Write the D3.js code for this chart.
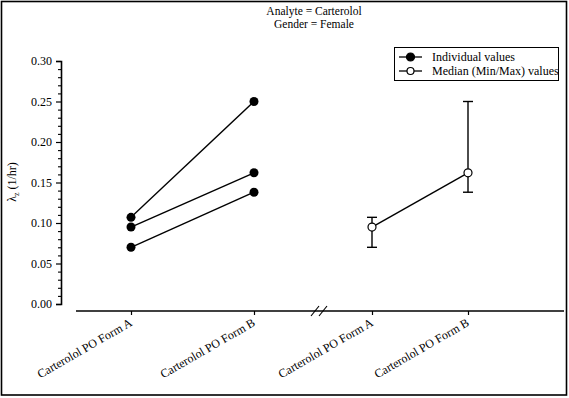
<!DOCTYPE html>
<html>
<head>
<meta charset="utf-8">
<script src="https://cdn.jsdelivr.net/npm/d3@7"></script>
<style>
  body { margin: 0; background: #fff; }
  text { font-family: "Liberation Serif", "Times New Roman", serif; fill: #000; }
</style>
</head>
<body>
<svg id="viz" width="569" height="398"></svg>
<script>
// categories and values
var forms = ["Carterolol PO Form A", "Carterolol PO Form B"];
var subjA = [0.107, 0.095, 0.070];
var subjB = [0.250, 0.162, 0.138];
var medianVals = [0.095, 0.162];
var minVals = [0.070, 0.138];
var maxVals = [0.107, 0.250];
var yTicks = [0.00, 0.05, 0.10, 0.15, 0.20, 0.25, 0.30];
var yMinorTicks = [0.01, 0.02, 0.03, 0.04, 0.06, 0.07, 0.08, 0.09, 0.11, 0.12, 0.13, 0.14,
  0.16, 0.17, 0.18, 0.19, 0.21, 0.22, 0.23, 0.24, 0.26, 0.27, 0.28, 0.29];
var titleLines = ["Analyte = Carterolol", "Gender = Female"];
var legendLabels = ["Individual values", "Median (Min/Max) values"];

var svg = d3.select("#viz");

// outer frame
svg.append("rect").attr("x", 1.5).attr("y", 1.5).attr("width", 565).attr("height", 393.5)
  .attr("fill", "none").attr("stroke", "#000").attr("stroke-width", 1.6);

// scales
var y = d3.scaleLinear().domain([0, 0.3]).range([304, 61]);
var xLeft = d3.scalePoint().domain(forms).range([131, 254]);
var xRight = d3.scalePoint().domain(forms).range([372, 468]);

// title
svg.selectAll(".title").data(titleLines).enter().append("text")
  .attr("x", 314).attr("y", function(d, i) { return 15 + i * 12.5; })
  .attr("text-anchor", "middle").style("font-size", "11.5px").text(function(d) { return d; });

// y axis: minor ticks in their own group, then majors
var yMinor = svg.append("g").attr("class", "minor").attr("transform", "translate(61,0)");
yMinor.call(d3.axisLeft(y).tickValues(yMinorTicks).tickSize(3).tickFormat(""));
yMinor.select(".domain").remove();
yMinor.selectAll("line").attr("stroke", "#000").attr("stroke-width", 1.1);
var yAxisG = svg.append("g").attr("transform", "translate(61,0)");
yAxisG.call(d3.axisLeft(y).tickValues(yTicks).tickSize(5).tickPadding(4).tickFormat(d3.format(".2f")));
yAxisG.selectAll(".domain").attr("stroke-width", 1.6);
yAxisG.selectAll("line").attr("stroke-width", 1.2);
yAxisG.selectAll("text").style("font-size", "12px");

// y label
var yl = svg.append("text").attr("transform", "translate(16,182) rotate(-90)")
  .attr("text-anchor", "middle").style("font-size", "12px");
yl.append("tspan").text("λ");
yl.append("tspan").attr("dy", 3).style("font-size", "8px").text("z");
yl.append("tspan").attr("dy", -3).text(" (1/hr)");

// x axis line with break marks
svg.append("line").attr("x1", 76).attr("x2", 564).attr("y1", 311).attr("y2", 311)
  .attr("stroke", "#000").attr("stroke-width", 1.6);
[315, 323].forEach(function(bx) {
  svg.append("line").attr("x1", bx - 4).attr("y1", 316).attr("x2", bx + 4).attr("y2", 306)
    .attr("stroke", "#000").attr("stroke-width", 1.2);
});

// x ticks and rotated labels
[xLeft, xRight].forEach(function(sc) {
  var g = svg.append("g").attr("transform", "translate(0,311)");
  g.call(d3.axisBottom(sc).tickSize(4).tickFormat(""));
  g.select(".domain").remove();
  g.selectAll("line").attr("stroke-width", 1.2);
  forms.forEach(function(f) {
    svg.append("text").attr("transform", "translate(" + (sc(f) + 2) + ",325) rotate(-30)")
      .attr("text-anchor", "end").style("font-size", "12px").text(f);
  });
});

// individual subject lines
var pairs = subjA.map(function(a, i) { return [a, subjB[i]]; });
var line = d3.line().x(function(d, i) { return xLeft(forms[i]); }).y(function(d) { return y(d); });
svg.selectAll(".subj").data(pairs).enter().append("path")
  .attr("d", line).attr("fill", "none").attr("stroke", "#000").attr("stroke-width", 1.4);
pairs.forEach(function(p) {
  p.forEach(function(v, i) {
    svg.append("circle").attr("cx", xLeft(forms[i])).attr("cy", y(v)).attr("r", 4.5).attr("fill", "#000");
  });
});

// median with min/max bars
var lineR = d3.line().x(function(d, i) { return xRight(forms[i]); }).y(function(d) { return y(d); });
forms.forEach(function(f, i) {
  var cx = xRight(f);
  svg.append("line").attr("x1", cx).attr("x2", cx).attr("y1", y(minVals[i])).attr("y2", y(maxVals[i]))
    .attr("stroke", "#000").attr("stroke-width", 1.4);
  [minVals[i], maxVals[i]].forEach(function(v) {
    svg.append("line").attr("x1", cx - 5).attr("x2", cx + 5).attr("y1", y(v)).attr("y2", y(v))
      .attr("stroke", "#000").attr("stroke-width", 1.4);
  });
});
svg.append("path").attr("d", lineR(medianVals)).attr("fill", "none").attr("stroke", "#000").attr("stroke-width", 1.4);
medianVals.forEach(function(v, i) {
  svg.append("circle").attr("cx", xRight(forms[i])).attr("cy", y(v)).attr("r", 4)
    .attr("fill", "#fff").attr("stroke", "#000").attr("stroke-width", 1.2);
});

// legend
svg.append("rect").attr("x", 394.5).attr("y", 47.5).attr("width", 164).attr("height", 33)
  .attr("fill", "#fff").attr("stroke", "#000").attr("stroke-width", 1);
legendLabels.forEach(function(lab, i) {
  var ly = 57 + i * 14;
  svg.append("line").attr("x1", 399).attr("x2", 422).attr("y1", ly).attr("y2", ly)
    .attr("stroke", "#000").attr("stroke-width", 1.3);
  svg.append("circle").attr("cx", 410.5).attr("cy", ly).attr("r", i == 0 ? 4 : 3.5)
    .attr("fill", i == 0 ? "#000" : "#fff").attr("stroke", "#000").attr("stroke-width", 1.2);
  svg.append("text").attr("x", 432).attr("y", ly + 4).style("font-size", "12px").text(lab);
});
</script>
</body>
</html>
